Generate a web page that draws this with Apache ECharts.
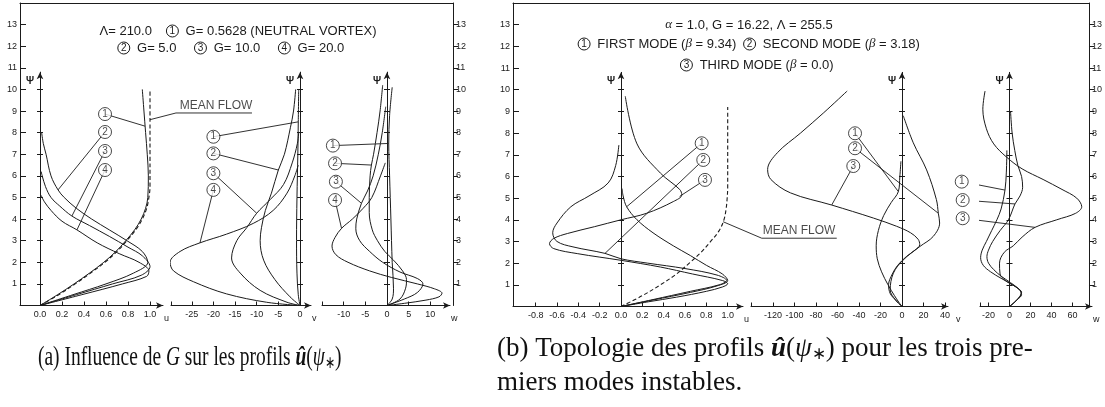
<!DOCTYPE html>
<html><head><meta charset="utf-8">
<script src="https://cdn.jsdelivr.net/npm/echarts@6/dist/echarts.min.js"></script>
<style>html,body{margin:0;padding:0;background:#fff}#c{width:1105px;height:407px}</style>
</head><body><div id="c"></div>
<script>
// ---------- tick labels ----------
const psiLabels = [1,2,3,4,5,6,7,8,9,10,11,12,13];
const psiAxisTicks = [1,2,3,4,5,6,7,8,9,10];
const uTicksA = [0,0.2,0.4,0.6,0.8,1.0];
const vTicksA = [-25,-20,-15,-10,-5,0];
const wTicksA = [-10,-5,0,5,10];
const uTicksB = [-0.8,-0.6,-0.4,-0.2,0,0.2,0.4,0.6,0.8,1.0];
const vTicksB = [-120,-100,-80,-60,-40,-20,0,20,40];
const wTicksB = [-20,0,20,40,60];

// ---------- panel (a) : [value, psi] ----------
const uA_mean = [[0,0],[0.17,0.5],[0.32,1],[0.46,1.5],[0.59,2],[0.7,2.5],[0.79,3],[0.87,3.5],[0.93,4],[0.97,4.5],[0.99,5],[1.0,5.5],[1.0,7],[1.0,8.6],[1.0,10]];
const uA_1 = [[0,0],[0.16,0.5],[0.31,1],[0.45,1.5],[0.58,2],[0.69,2.5],[0.78,3],[0.86,3.5],[0.92,4],[0.96,4.5],[0.98,5],[0.985,6],[0.975,7],[0.96,8],[0.945,9],[0.93,10]];
const uA_2 = [[0,0],[0.3,0.5],[0.6,1.0],[0.85,1.5],[0.98,2.0],[0.93,2.5],[0.79,3.0],[0.63,3.5],[0.47,4.0],[0.33,4.5],[0.22,5.0],[0.164,5.35],[0.1,6.0],[0.055,7.0],[0.03,7.5],[0.015,8.0]];
const uA_3 = [[0,0],[0.33,0.5],[0.66,1.0],[0.92,1.4],[1.0,1.8],[0.93,2.3],[0.8,2.7],[0.63,3.2],[0.45,3.7],[0.29,4.14],[0.18,4.6],[0.1,5.0],[0.05,5.5],[0.02,6.0],[0.01,6.2]];
const uA_4 = [[0,0],[0.38,0.5],[0.75,1.0],[0.97,1.35],[0.99,1.6],[0.9,2.0],[0.72,2.4],[0.52,2.9],[0.336,3.5],[0.2,3.9],[0.1,4.4],[0.04,4.8],[0.01,5.1]];
const vA_1 = [[0,0],[-0.4,0.5],[-0.7,1.5],[-0.8,3],[-0.7,5],[-0.5,7],[-0.4,8.5],[-0.3,10]];
const vA_2 = [[0,0],[-2.3,0.4],[-5.8,1.2],[-8.4,2.1],[-9.2,3.0],[-8.9,3.6],[-8,4.4],[-6.6,5.2],[-5,6.27],[-3.6,7],[-2.2,8.25],[-1.5,9],[-1.0,10]];
const vA_3 = [[0,0],[-3,0.15],[-9.2,0.7],[-13.8,1.5],[-15.8,2.2],[-14.6,3.0],[-12.3,3.6],[-10,4.27],[-6.9,4.9],[-3.8,5.6],[-1.8,6.6],[-0.6,7.5],[-0.3,8]];
const vA_4 = [[0,0],[-7.7,0.15],[-17,0.54],[-24.6,1.1],[-29.2,1.6],[-30,2.0],[-27.7,2.5],[-23.1,2.9],[-17,3.3],[-10.8,3.8],[-6.2,4.4],[-3,5.2],[-1.2,6],[-0.4,6.5]];
const wA_1 = [[0,0],[1.2,0.3],[1.5,0.8],[1.2,2],[0.9,4],[0.6,6],[0.4,7.5],[0.6,8.8],[1.2,10.1]];
const wA_2 = [[0,0],[3,0.3],[4.3,0.8],[4.5,1.2],[3.6,1.6],[1.5,2.1],[-0.5,2.5],[-2.2,3],[-3.4,3.5],[-4.1,4.3],[-4.1,5],[-3.9,6],[-3.6,6.5],[-3.1,7],[-2.3,8],[-1.6,9],[-1.0,10.2]];
const wA_3 = [[0,0],[4,0.3],[7,0.6],[8.3,1.0],[7,1.25],[3,1.55],[-1,2],[-4,2.5],[-6.3,3],[-7.2,3.55],[-7,4],[-5.9,4.73],[-4.5,5.3],[-3.2,6],[-2,7],[-1.1,8],[-0.3,9.2]];
const wA_4 = [[0,0],[4,0.1],[9,0.25],[12,0.4],[12.7,0.57],[11,0.77],[7,1.0],[1,1.3],[-4,1.6],[-9,2.0],[-11.8,2.35],[-12.7,2.75],[-12,3.15],[-10.5,3.57],[-8,4],[-5.5,4.5],[-3.5,5],[-1.5,6],[-0.4,6.6]];

// ---------- panel (b) ----------
const uB_mean = [[0,0],[0.2,0.5],[0.37,1.0],[0.52,1.5],[0.64,2.0],[0.75,2.5],[0.84,3.0],[0.92,3.5],[0.965,4.0],[0.985,4.5],[0.995,5.0],[1.0,5.5],[1.0,7],[1.0,9.2]];
const uB_1 = [[0,0],[0.3,0.3],[0.65,0.65],[0.9,0.95],[1.0,1.2],[0.95,1.5],[0.8,1.9],[0.65,2.35],[0.49,2.8],[0.3,3.4],[0.15,4.0],[0.053,4.6],[0.02,5.1],[0.01,5.44]];
const uB_2 = [[0,0],[0.3,0.32],[0.65,0.7],[0.92,1.0],[0.99,1.2],[0.9,1.45],[0.6,1.75],[0.25,2.0],[0,2.2],[-0.15,2.45],[-0.45,2.75],[-0.6,3.0],[-0.64,3.4],[-0.6,3.85],[-0.47,4.6],[-0.3,5.1],[-0.12,5.7],[-0.05,6.5],[-0.02,7.45]];
const uB_3 = [[0,0],[0.26,0.22],[0.52,0.43],[0.8,0.7],[0.95,0.9],[1.0,1.05],[0.95,1.2],[0.67,1.5],[0.37,1.82],[0,2.13],[-0.41,2.44],[-0.63,2.67],[-0.67,2.9],[-0.63,3.14],[-0.5,3.37],[-0.25,3.68],[0,4.0],[0.24,4.3],[0.49,4.84],[0.57,5.15],[0.55,5.4],[0.37,6.15],[0.15,7.5],[0.04,9.7]];
const vB_1 = [[0,0],[-3,0.2],[-7,0.5],[-13,1.0],[-19,1.6],[-23,2.2],[-24,2.8],[-22,3.5],[-17,4.2],[-10,4.8],[-3.4,5.3],[-2,6.0],[-1,6.7]];
const vB_2 = [[0,0],[-6,0.3],[-11,0.76],[-8,1.54],[1.2,2.15],[16.7,2.77],[29,3.23],[35,3.85],[33.8,4.3],[32,4.93],[22.9,6.3],[10.5,7.55],[1.2,8.8]];
const vB_3 = [[0,0],[-6,0.3],[-11,0.6],[-12.5,1.0],[-9,1.5],[-4,1.9],[4,2.3],[12,2.6],[16.5,2.85],[15,3.1],[8,3.4],[-5,3.7],[-26.6,4.08],[-65.4,4.68],[-103.7,5.24],[-122,5.86],[-125,6.32],[-116,7.09],[-94.4,8.0],[-72.8,8.94],[-51,9.94]];
const wB_1 = [[0,0],[7,0.3],[11.5,0.55],[10,0.76],[3,1.0],[-8,1.3],[-18,1.6],[-25,1.9],[-27.5,2.25],[-26,2.6],[-22,3.0],[-17,3.5],[-12,4.0],[-8,4.5],[-4.3,5.37],[-3,6.2],[-2.5,7.2]];
const wB_2 = [[0,0],[7,0.3],[11,0.6],[9,0.8],[1,1.1],[-8,1.4],[-15,1.7],[-20,2.0],[-21.5,2.3],[-20,2.6],[-16,3.0],[-9,3.5],[-1,4.0],[5.2,4.73],[10,5.1],[12.5,5.5],[11.5,6.0],[8,6.5],[5,7.2],[2.5,8],[1,9]];
const wB_3 = [[0,0],[7,0.3],[11.5,0.65],[6,0.9],[-4,1.2],[-9,1.5],[-9.5,2.0],[-5,2.5],[3.6,2.8],[12,3.2],[24.3,3.65],[45,4.0],[63,4.3],[68.8,4.6],[64,5.0],[50,5.4],[32,5.86],[12,6.35],[-3,6.9],[-15,7.5],[-22,8.2],[-25.4,9.1],[-23.3,9.94]];

// ---------- annotations (label anchor, leader end) ----------
const annUA = [{n:'1',at:[0.591,8.86],to:[0.955,8.3]},{n:'2',at:[0.591,8.03],to:[0.164,5.35]},{n:'3',at:[0.591,7.15],to:[0.29,4.14]},{n:'4',at:[0.591,6.27],to:[0.336,3.5]}];
const annVA = [{n:'1',at:[-20,7.81],to:[-0.4,8.5]},{n:'2',at:[-20,7.04],to:[-5,6.27]},{n:'3',at:[-20,6.12],to:[-10,4.27]},{n:'4',at:[-20,5.35],to:[-23.1,2.9]}];
const annWA = [{n:'1',at:[-12.5,7.4],to:[0.4,7.5]},{n:'2',at:[-12,6.58],to:[-3.6,6.5]},{n:'3',at:[-11.8,5.73],to:[-5.9,4.73]},{n:'4',at:[-12,4.88],to:[-10.5,3.57]}];
const annUB = [{n:'1',at:[0.756,7.53],to:[0.053,4.6]},{n:'2',at:[0.771,6.76],to:[-0.15,2.45]},{n:'3',at:[0.787,5.84],to:[0.55,5.08]}];
const annVB = [{n:'1',at:[-43.7,7.99],to:[-3.4,5.3]},{n:'2',at:[-43.7,7.3],to:[33.8,4.3]},{n:'3',at:[-45.3,6.48],to:[-65.4,4.68]}];
const annWB = [{n:'1',at:[-45.5,5.76],to:[-4.3,5.37]},{n:'2',at:[-44.6,4.91],to:[5.2,4.73]},{n:'3',at:[-44.6,4.07],to:[24.3,3.65]}];
const meanA = {text:[1.6,8.91], path:[[1.0,8.6],[1.236,8.91],[1.927,8.91]]};
const meanB = {text:[1.668,3.15], path:[[0.957,3.91],[1.319,3.15],[2.022,3.15]]};

// ---------- layout ----------
const INK = '#1b1b1b';
const SANS = 'Liberation Sans, Arial, sans-serif';
const PSI_MAX = 14, PSI_ARROW = 10.8;
const panels = [
  {left:20, right:453, top:3, base:305.5},
  {left:513, right:1095, top:3, base:306.5}
];
function fmt1(v){ return (v<-1e-9?'-':'') + Math.abs(v).toFixed(1); }
function fmt0(v){ return (v<0?'-':'') + Math.abs(v); }
const subplots = [
  {p:0,left:20,right:163,zero:40,ppu:110,ticks:uTicksA,endTick:false,name:'u',fmt:fmt1,
   curves:[{d:uA_mean,dash:true},{d:uA_1},{d:uA_2},{d:uA_3},{d:uA_4}],ann:annUA,mean:meanA},
  {p:0,left:171,right:311,zero:300,ppu:4.33,ticks:vTicksA,endTick:true,name:'v',fmt:fmt0,
   curves:[{d:vA_1},{d:vA_2},{d:vA_3},{d:vA_4}],ann:annVA},
  {p:0,left:322,right:450,zero:387,ppu:4.33,ticks:wTicksA,endTick:true,name:'w',fmt:fmt0,
   curves:[{d:wA_1},{d:wA_2},{d:wA_3},{d:wA_4}],ann:annWA},
  {p:1,left:513,right:743,zero:621,ppu:106.7,ticks:uTicksB,endTick:false,name:'u',fmt:fmt1,
   curves:[{d:uB_mean,dash:true},{d:uB_1},{d:uB_2},{d:uB_3}],ann:annUB,mean:meanB},
  {p:1,left:751,right:948,zero:902,ppu:1.075,ticks:vTicksB,endTick:true,name:'v',fmt:fmt0,
   curves:[{d:vB_1},{d:vB_2},{d:vB_3}],ann:annVB},
  {p:1,left:980,right:1092,zero:1009.5,ppu:1.05,ticks:wTicksB,endTick:true,name:'w',fmt:fmt0,
   curves:[{d:wB_1},{d:wB_2},{d:wB_3}],ann:annWB}
];

const lineS = {color:INK, width:1};
const grids=[], xAxes=[], yAxes=[], series=[];
panels.forEach((p,i)=>{
  grids.push({left:p.left, top:p.top, width:p.right-p.left, height:p.base-p.top});
  xAxes.push({type:'value', gridIndex:i, min:0, max:1, position:'top',
    axisLine:{show:true,onZero:false,lineStyle:lineS}, axisTick:{show:false}, axisLabel:{show:false}, splitLine:{show:false}});
  yAxes.push({type:'value', gridIndex:i, min:0, max:PSI_MAX, interval:1, position:'left',
    axisLine:{show:true,onZero:false,lineStyle:lineS},
    axisTick:{show:true,inside:true,length:6,customValues:psiLabels,lineStyle:lineS},
    axisLabel:{show:true,customValues:psiLabels,fontSize:9,fontFamily:SANS,color:INK,margin:3},
    splitLine:{show:false}});
  yAxes.push({type:'value', gridIndex:i, min:0, max:PSI_MAX, interval:1, position:'right',
    axisLine:{show:true,onZero:false,lineStyle:lineS},
    axisTick:{show:true,inside:false,length:5,customValues:psiLabels,lineStyle:lineS},
    axisLabel:{show:true,customValues:psiLabels,fontSize:9,fontFamily:SANS,color:INK,margin:3},
    splitLine:{show:false}});
});

const meanRefs = [];
subplots.forEach((s,j)=>{
  const p = panels[s.p];
  const ppp = (p.base-p.top)/PSI_MAX;
  const h = PSI_ARROW*ppp;
  const g = grids.length;
  grids.push({left:s.left, top:p.base-h, width:s.right-s.left, height:h});
  const xmin = (s.left-s.zero)/s.ppu, xmax = (s.right-s.zero)/s.ppu;
  const xi = xAxes.length;
  xAxes.push({type:'value', gridIndex:g, min:xmin, max:xmax, position:'bottom',
    axisLine:{show:true,onZero:false,symbol:['none','arrow'],symbolSize:[5,7],lineStyle:lineS},
    axisTick:{show:true,inside:true,length:4,customValues:s.endTick?[xmin].concat(s.ticks):s.ticks,lineStyle:lineS},
    axisLabel:{show:true,customValues:s.ticks,formatter:s.fmt,fontSize:9,fontFamily:SANS,color:INK,margin:5},
    splitLine:{show:false},
    name:s.name, nameLocation:'end', nameGap:1,
    nameTextStyle:{fontSize:9,fontFamily:SANS,color:INK,verticalAlign:'top',padding:[9,0,0,0]}});
  const off = -(s.zero-s.left);
  const yi = yAxes.length;
  yAxes.push({type:'value', gridIndex:g, min:0, max:PSI_ARROW, position:'left', offset:off,
    axisLine:{show:true,onZero:false,symbol:['none','arrow'],symbolSize:[5,7],lineStyle:lineS},
    axisTick:{show:true,inside:false,length:3,customValues:psiAxisTicks,lineStyle:lineS},
    axisLabel:{show:false}, splitLine:{show:false},
    name:'\u03A8', nameLocation:'end', nameGap:-4,
    nameTextStyle:{fontSize:10,fontWeight:'bold',fontFamily:SANS,color:INK,align:'right',verticalAlign:'top',padding:[0,6,0,0]}});
  yAxes.push({type:'value', gridIndex:g, min:0, max:PSI_ARROW, position:'left', offset:off,
    axisLine:{show:false}, axisTick:{show:true,inside:true,length:3,customValues:psiAxisTicks,lineStyle:lineS},
    axisLabel:{show:false}, splitLine:{show:false}});
  s.curves.forEach(c=>{
    series.push({type:'line', xAxisIndex:xi, yAxisIndex:yi, data:c.d, symbol:'none', smooth:0.35,
      lineStyle:{color:INK,width:c.dash?1.1:1,type:c.dash?[4,2.5]:'solid'}, clip:false, silent:true, z:3});
  });
  s.ann.forEach(a=>{
    series.push({type:'line', xAxisIndex:xi, yAxisIndex:yi, data:[a.at,a.to], symbol:'none',
      lineStyle:{color:INK,width:0.9}, clip:false, silent:true, z:4});
  });
  series.push({type:'scatter', xAxisIndex:xi, yAxisIndex:yi, clip:false, silent:true, z:5,
    data:s.ann.map(a=>({value:a.at, label:{formatter:a.n}})), symbol:'circle', symbolSize:13,
    itemStyle:{color:'#fff',borderColor:INK,borderWidth:1},
    label:{show:true,position:'inside',fontSize:10,fontFamily:SANS,color:INK}});
  if (s.mean){
    meanRefs.push({xi:xi, yi:yi, path:s.mean.path});
    series.push({type:'scatter', xAxisIndex:xi, yAxisIndex:yi, clip:false, silent:true, z:5,
      data:[s.mean.text], symbolSize:1, itemStyle:{color:'rgba(0,0,0,0)'},
      label:{show:true,position:'top',distance:1,formatter:'MEAN FLOW',fontSize:12,fontFamily:SANS,color:INK}});
  }
});

const circ = {width:12,height:12,lineHeight:12,borderRadius:7,borderWidth:1,borderColor:INK,align:'center',fontSize:10,fontFamily:SANS,fill:INK};
const greek = {fontStyle:'italic',fontFamily:'Liberation Serif, serif',fontSize:13,fill:INK};
function title(x,y,text){
  return {type:'text', x:x, y:y, silent:true, z:10,
    style:{text:text, align:'center', verticalAlign:'middle', fontSize:13, fontFamily:SANS, fill:INK,
      rich:{c:circ, g:greek}}};
}
const SERIF = 'Liberation Serif, Times New Roman, serif';
const capRich = {
  i:{fontStyle:'italic',fontFamily:SERIF,fontSize:27,fill:'#111'},
  b:{fontStyle:'italic',fontWeight:'bold',fontFamily:SERIF,fontSize:27,fill:'#111'},
  s:{fontSize:17,fontFamily:SERIF,fill:'#111',padding:[12,0,0,0]}
};
function caption(x,y,text,sx){
  return {type:'text', x:x, y:y, scaleX:sx, silent:true, z:10,
    style:{text:text, align:'left', verticalAlign:'middle', fontSize:27, fontFamily:SERIF, fill:'#111', rich:capRich}};
}
const graphic = [
  title(238,31,'\u039B= 210.0    {c|1}  G= 0.5628 (NEUTRAL VORTEX)'),
  title(231,48,'{c|2}  G= 5.0     {c|3}  G= 10.0     {c|4}  G= 20.0'),
  title(749,25,'{g|\u03B1} = 1.0, G = 16.22, \u039B = 255.5'),
  title(749,44,'{c|1}  FIRST MODE ({g|\u03B2} = 9.34)  {c|2}  SECOND MODE ({g|\u03B2} = 3.18)'),
  title(757,65,'{c|3}  THIRD MODE ({g|\u03B2} = 0.0)'),
  caption(38,358,'(a) Influence de {i|G} sur les profils {b|\u00FB}({i|\u03C8}{s|\u2217})',0.72),
  caption(497,349,'(b) Topologie des profils {b|\u00FB}({i|\u03C8}{s|\u2217}) pour les trois pre-',1.0),
  caption(497,383,'miers modes instables.',1.0)
];

const chart = echarts.init(document.getElementById('c'));
chart.setOption({animation:false, backgroundColor:'#fff', grid:grids, xAxis:xAxes, yAxis:yAxes, series:series});
// leader + underline of "MEAN FLOW", converted through the axes' own scales
meanRefs.forEach(m=>{
  const pts = m.path.map(pt=>chart.convertToPixel({xAxisIndex:m.xi, yAxisIndex:m.yi}, pt));
  graphic.push({type:'polyline', silent:true, z:6, shape:{points:pts}, style:{stroke:INK, lineWidth:0.9, fill:null}});
});
chart.setOption({graphic:graphic});
</script></body></html>
